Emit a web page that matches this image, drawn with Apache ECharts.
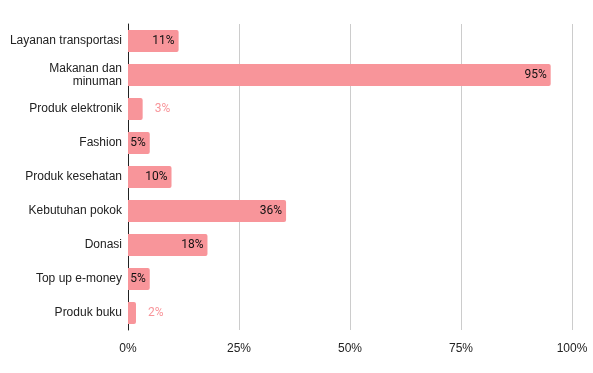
<!DOCTYPE html>
<html><head><meta charset="utf-8">
<script src="https://cdn.jsdelivr.net/npm/echarts@6/dist/echarts.min.js"></script>
<style>html,body{margin:0;padding:0;background:#fff}#c{width:593px;height:373px}</style>
</head><body><div id="c"></div>
<script>
var categories = ["Layanan transportasi", "Makanan dan\nminuman", "Produk elektronik", "Fashion", "Produk kesehatan", "Kebutuhan pokok", "Donasi", "Top up e-money", "Produk buku"];
var values = [11.4, 95.2, 3.3, 4.9, 9.8, 35.6, 17.9, 4.9, 1.8];
var xTicks = [0, 25, 50, 75, 100];

var barColor = '#F8959A';
var data = values.map(function (v) {
  var small = v < 4;
  return {
    value: v,
    label: small ? { position: 'right', distance: 12, color: barColor } : { position: 'insideRight', distance: 4, color: '#111' }
  };
});

var chart = echarts.init(document.getElementById('c'), null, { renderer: 'canvas' });
chart.setOption({
  animation: false,
  grid: { left: 128, right: 21, top: 24, bottom: 43, containLabel: false },
  xAxis: {
    type: 'value', min: xTicks[0], max: xTicks[xTicks.length - 1], interval: 25,
    axisLine: { show: false }, axisTick: { show: false },
    splitLine: { lineStyle: { color: '#cccccc', width: 1 } },
    axisLabel: { formatter: '{value}%', color: '#222', fontSize: 12, fontFamily: 'Liberation Sans, Arial, sans-serif', margin: 13 }
  },
  yAxis: {
    type: 'category', data: categories, inverse: true,
    axisLine: { show: true, lineStyle: { color: '#222', width: 1 } },
    axisTick: { show: false },
    axisLabel: { color: '#222', fontSize: 12, fontFamily: 'Liberation Sans, Arial, sans-serif', margin: 6, lineHeight: 13 }
  },
  series: [{
    type: 'bar', data: data, barWidth: 22,
    itemStyle: { color: barColor, borderRadius: [0, 2, 2, 0] },
    label: { show: true, fontSize: 12, fontFamily: 'Roboto, sans-serif', formatter: function (p) { return Math.round(p.value) + '%'; } }
  }]
});
</script></body></html>
